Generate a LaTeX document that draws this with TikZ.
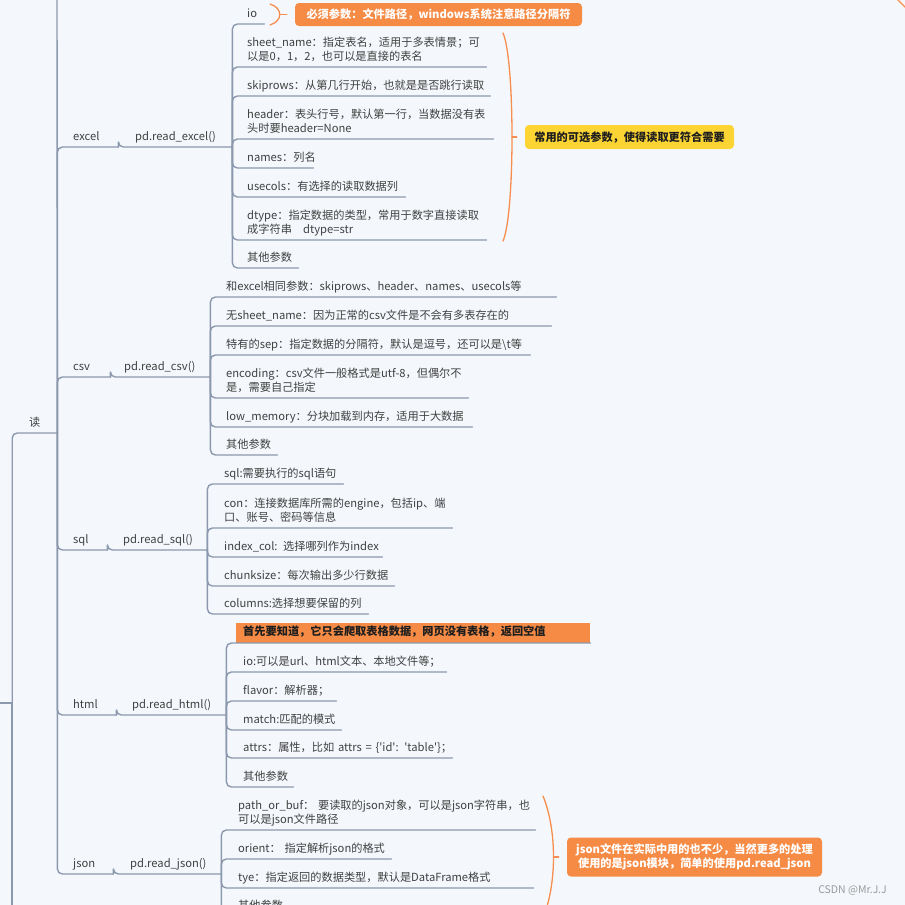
\documentclass[tikz,border=0pt]{standalone}
\usepackage{fontspec}
\setmainfont{Noto Sans CJK SC}[Ligatures=TeXOff]
\usepackage{tikz}

\definecolor{MapBg}{HTML}{F4F8FC}
\definecolor{MapLine}{HTML}{8C98AD}
\definecolor{MapText}{HTML}{404040}
\definecolor{MapInk}{HTML}{1E1E1E}
\definecolor{MapOrange}{HTML}{F68B45}
\definecolor{MapYellow}{HTML}{FCD535}
\definecolor{MapBrace}{HTML}{F78D4F}
\definecolor{MapMark}{HTML}{9A9A9A}

\newcommand{\mapfont}{\fontsize{11.2}{14}\selectfont}

\tikzset{
  every picture/.style = {line join=round, line cap=round},
  topic/.style = {
    anchor=south west,
    inner xsep=0pt,
    inner ysep=1.9pt,
    align=left,
    font=\mapfont,
    text=MapText,
    execute at end node=\strut
  },
  banner/.style = {topic, fill=MapOrange, inner xsep=7pt, inner ysep=2.7pt, font=\mapfont\bfseries, text=MapInk},
  link/.style = {draw=MapLine, line width=1.4pt, rounded corners=5pt},
  summary/.style = {draw=MapBrace, line width=1.3pt},
  note/.style = {
    rounded corners=4pt,
    inner sep=0pt,
    align=center,
    font=\mapfont\bfseries
  },
  note orange/.style = {note, fill=MapOrange, text=white},
  note yellow/.style = {note, fill=MapYellow, text=MapInk},
  hub/.style = {inner sep=0pt, minimum size=0pt},
}

% topic with its underline, hung on the parent
\newcommand{\Leaf}[7][topic]{%
  \node[#1, text width=#6pt] (#3) at (#4,#5) {#7};
  \draw[link] (#2.south east) |- (#3.south west) -- (#3.south east);
}

\begin{document}
\begin{tikzpicture}[x=1pt,y=-1pt]
  \useasboundingbox (0,0) rectangle (905,905);
  \fill[MapBg] (0,0) rectangle (905,905);
  \clip (0,0) rectangle (905,905);

  % root trunk
  \coordinate (rootin) at (-15,703);
  \coordinate (downbot) at (12,930);
  \node[hub] (rootj) at (12,703) {};
  \draw[link] (rootin) -- (rootj);
  \draw[link] (rootj) -- (downbot);
  \Leaf{rootj}{read}{29}{433}{28}{读}
  \coordinate (uptop) at (57,-15);
  \draw[link] (read.south east) -- (uptop);

  % excel
  \Leaf{read}{excel}{73}{147}{45}{excel}
  \Leaf{excel}{readexcel}{135}{147}{97}{pd.read\_excel()}
  \Leaf{readexcel}{xio}{247}{24}{17}{io}
  \Leaf{readexcel}{xsheet}{247}{67}{239}{sheet\_name：指定表名，适用于多表情景；可\\以是0，1，2，也可以是直接的表名}
  \Leaf{readexcel}{xskip}{247}{96}{243}{skiprows：从第几行开始，也就是是否跳行读取}
  \Leaf{readexcel}{xheader}{247}{139}{246}{header：表头行号，默认第一行，当数据没有表\\头时要header=None}
  \Leaf{readexcel}{xnames}{247}{168}{66}{names：列名}
  \Leaf{readexcel}{xusecols}{247}{197}{158}{usecols：有选择的读取数据列}
  \Leaf{readexcel}{xdtype}{247}{240}{239}{dtype：指定数据的类型，常用于数字直接读取\\成字符串\quad dtype=str}
  \Leaf{readexcel}{xother}{247}{268}{51}{其他参数}

  % csv
  \Leaf{read}{csv}{73}{377}{37}{csv}
  \Leaf{csv}{readcsv}{124}{377}{86}{pd.read\_csv()}
  \Leaf{readcsv}{cshared}{226}{297}{330}{和excel相同参数：skiprows、header、names、usecols等}
  \Leaf{readcsv}{cnosheet}{226}{326}{325}{无sheet\_name：因为正常的csv文件是不会有多表存在的}
  \Leaf{readcsv}{csep}{226}{355}{304}{特有的sep：指定数据的分隔符，默认是逗号，还可以是\textbackslash t等}
  \Leaf{readcsv}{cenc}{226}{398}{242}{encoding：csv文件一般格式是utf-8，但偶尔不\\是，需要自己指定}
  \Leaf{readcsv}{clowmem}{226}{427}{246}{low\_memory：分块加载到内存，适用于大数据}
  \Leaf{readcsv}{cother}{226}{455}{51}{其他参数}

  % sql
  \Leaf{read}{sql}{73}{550}{34}{sql}
  \Leaf{sql}{readsql}{123}{550}{84}{pd.read\_sql()}
  \Leaf{readsql}{squery}{224}{484}{119}{sql:需要执行的sql语句}
  \Leaf{readsql}{scon}{224}{528}{228}{con：连接数据库所需的engine，包括ip、端\\口、账号、密码等信息}
  \Leaf{readsql}{sindex}{224}{557}{158}{index\_col: 选择哪列作为index}
  \Leaf{readsql}{schunk}{224}{586}{170}{chunksize：每次输出多少行数据}
  \Leaf{readsql}{scols}{224}{614}{144}{columns:选择想要保留的列}

  % html
  \Leaf{read}{html}{73}{715}{43}{html}
  \Leaf{html}{readhtml}{132}{715}{94}{pd.read\_html()}
  \Leaf[banner]{readhtml}{hwarn}{236}{643}{340}{首先要知道，它只会爬取表格数据，网页没有表格，返回空值}
  \Leaf{readhtml}{hio}{243}{672}{203}{io:可以是url、html文本、本地文件等；}
  \Leaf{readhtml}{hflavor}{243}{701}{93}{flavor：解析器；}
  \Leaf{readhtml}{hmatch}{243}{730}{98}{match:匹配的模式}
  \Leaf{readhtml}{hattrs}{243}{758}{209}{attrs：属性，比如 attrs = \{'id': 'table'\}；}
  \Leaf{readhtml}{hother}{243}{787}{50}{其他参数}

  % json
  \Leaf{read}{json}{73}{874}{40}{json}
  \Leaf{json}{readjson}{130}{874}{91}{pd.read\_json()}
  \Leaf{readjson}{jpath}{238}{830}{297}{path\_or\_buf： 要读取的json对象，可以是json字符串，也\\可以是json文件路径}
  \Leaf{readjson}{jorient}{238}{859}{153}{orient： 指定解析json的格式}
  \Leaf{readjson}{jtype}{238}{888}{295}{tye：指定返回的数据类型，默认是DataFrame格式}
  \Leaf{readjson}{jother}{238}{916}{51}{其他参数}

  % summaries
  \node[note orange, minimum width=287pt, minimum height=23pt] (ionote) at (438.5,14.5)
    {必须参数：文件路径，windows系统注意路径分隔符};
  \draw[summary] (270,4) .. controls (283,8) and (283,21) .. (270,25);
  \coordinate (iotip) at (279.75,14.5);
  \draw[summary] (iotip) -- ([xshift=-8pt]ionote.west);

  \node[note yellow, minimum width=209pt, minimum height=24pt] (xnote) at (629.5,137)
    {常用的可选参数，使得读取更符合需要};
  \draw[summary] (503,33) .. controls (515,60) and (515,214) .. (503,241);
  \coordinate (xtip) at (512,137);
  \draw[summary] (xtip) -- ([xshift=-8pt]xnote.west);

  \node[note orange, minimum width=255pt, minimum height=39pt] (jnote) at (694.5,857)
    {json文件在实际中用的也不少，当然更多的处理\\使用的是json模块，简单的使用pd.read\_json};
  \draw[summary] (543,796) .. controls (557,830) and (557,884) .. (543,918);
  \coordinate (jtip) at (553.5,857);
  \draw[summary] (jtip) -- ([xshift=-8pt]jnote.west);

  \draw[summary] (896,-2) -- (906,8);

  \node[font=\fontsize{10.5}{12}\selectfont, text=MapMark, inner sep=0pt] (csdn) at (852.5,890) {CSDN @Mr.J.J};
\end{tikzpicture}
\end{document}
